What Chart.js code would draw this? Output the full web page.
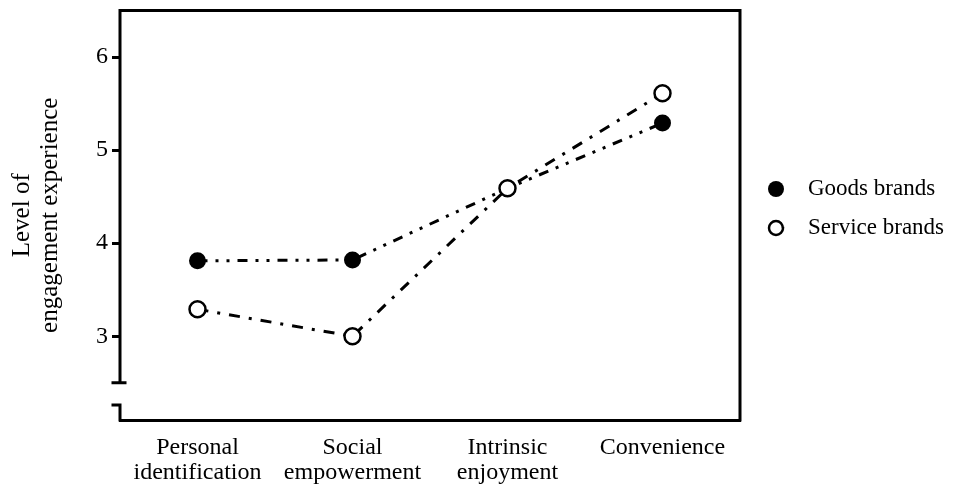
<!DOCTYPE html>
<html>
<head>
<meta charset="utf-8">
<script src="https://cdn.jsdelivr.net/npm/chart.js@4/dist/chart.umd.min.js"></script>
<style>
  html, body { margin: 0; padding: 0; background: #fff; }
  #wrap { width: 956px; height: 488px; position: relative; }
</style>
</head>
<body>
<div id="wrap"><canvas id="engChart"></canvas></div>
<script>
// data
const categories = [['Personal', 'identification'], ['Social', 'empowerment'], ['Intrinsic', 'enjoyment'], 'Convenience'];
const goodsValues = [3.81, 3.82, 4.59, 5.29];
const serviceValues = [3.29, 3.00, 4.59, 5.61];
const yTicks = [3, 4, 5, 6];
const seriesNames = ['Goods brands', 'Service brands'];

const serif = "'Liberation Serif', 'DejaVu Serif', serif";
const black = '#000';

// frame, broken y axis and legend
const framePlugin = {
    id: 'frame',
    afterDraw(chart) {
        const ctx = chart.ctx;
        const a = chart.chartArea;
        const y = chart.scales.y;
        const breakTop = y.getPixelForValue(2.5);
        const breakBot = y.getPixelForValue(2.26);
        ctx.save();
        ctx.strokeStyle = black;
        ctx.lineWidth = 3;
        ctx.lineCap = 'square';
        ctx.beginPath();
        // top + right
        ctx.moveTo(a.left, a.top);
        ctx.lineTo(a.right, a.top);
        ctx.lineTo(a.right, a.bottom);
        // left axis upper piece
        ctx.moveTo(a.left, a.top);
        ctx.lineTo(a.left, breakTop);
        ctx.moveTo(a.left - 7, breakTop);
        ctx.lineTo(a.left + 5, breakTop);
        // lower piece
        ctx.moveTo(a.left - 7, breakBot);
        ctx.lineTo(a.left, breakBot);
        ctx.lineTo(a.left, a.bottom);
        ctx.stroke();

        // legend
        ctx.font = '23px ' + serif;
        ctx.textBaseline = 'middle';
        ctx.fillStyle = black;
        const rows = [189, 228];
        rows.forEach((ry, i) => {
            ctx.beginPath();
            ctx.arc(776, ry, i === 0 ? 8 : 7, 0, Math.PI * 2);
            if (i === 0) { ctx.fill(); }
            else { ctx.fillStyle = '#fff'; ctx.fill(); ctx.lineWidth = 2.5; ctx.stroke(); ctx.fillStyle = black; }
            ctx.fillText(seriesNames[i], 808, ry);
        });
        ctx.restore();
    }
};

new Chart(document.getElementById('engChart'), {
    type: 'line',
    data: {
        labels: categories,
        datasets: [{
            label: seriesNames[1],
            data: serviceValues,
            borderColor: black,
            borderWidth: 3,
            borderDash: [11, 9, 3, 9],
            pointRadius: 8,
            pointBackgroundColor: '#fff',
            pointBorderColor: black,
            pointBorderWidth: 2.5,
            tension: 0
        }, {
            label: seriesNames[0],
            data: goodsValues,
            borderColor: black,
            borderWidth: 3,
            borderDash: [10, 8, 3, 8, 3, 8],
            pointRadius: 8.5,
            pointBackgroundColor: black,
            pointBorderColor: black,
            pointBorderWidth: 0,
            tension: 0
        }]
    },
    options: {
        responsive: true,
        maintainAspectRatio: false,
        animation: false,
        layout: { padding: { top: 8, right: 216, bottom: 0, left: 0 } },
        plugins: { legend: { display: false }, tooltip: { enabled: false } },
        scales: {
            x: {
                offset: true,
                grid: { display: false, drawTicks: true, tickLength: 8, tickWidth: 3, tickColor: black, offset: false },
                border: { display: true, color: black, width: 3 },
                ticks: { color: black, font: { family: serif, size: 24, lineHeight: 1.05 }, padding: 7, maxRotation: 0 },
                afterFit(scale) { scale.height = 68; scale.paddingLeft = 0; scale.paddingRight = 0; }
            },
            y: {
                min: 2.1,
                max: 6.5,
                afterBuildTicks(scale) { scale.ticks = yTicks.map(v => ({ value: v })); },
                grid: { drawOnChartArea: false, drawTicks: true, tickLength: 8, tickWidth: 3, tickColor: black },
                border: { display: false },
                ticks: { color: black, font: { family: serif, size: 24 }, padding: 4 },
                title: {
                    display: true,
                    text: ['Level of', 'engagement experience'],
                    color: black,
                    font: { family: serif, size: 25, lineHeight: 1.12 },
                    padding: { top: 8, bottom: 0 }
                },
                afterFit(scale) { scale.width = 120; scale.paddingTop = 0; scale.paddingBottom = 0; }
            }
        }
    },
    plugins: [framePlugin]
});
</script>
</body>
</html>
